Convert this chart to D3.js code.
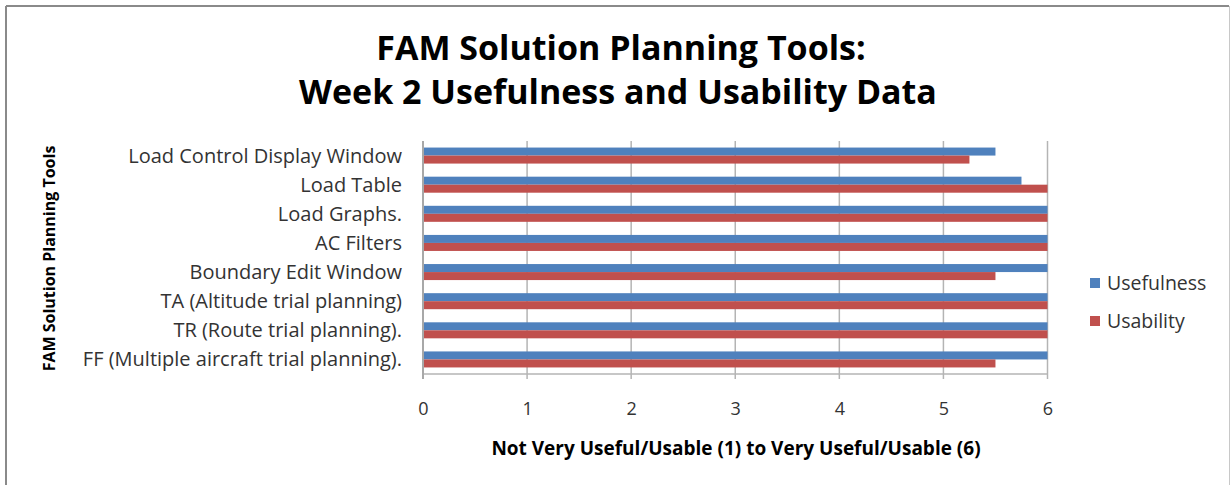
<!DOCTYPE html>
<html>
<head>
<meta charset="utf-8">
<script src="https://cdn.jsdelivr.net/npm/d3@7"></script>
<style>
  html, body { margin: 0; padding: 0; background: #fff; }
  svg { display: block; }
  text { font-family: "Open Sans", Lato, "DejaVu Sans", sans-serif; }
</style>
</head>
<body>
<svg id="chart" width="1230" height="485"></svg>
<script>
// Tools rated in week 2, top to bottom
const categories = [
  "Load Control Display Window",
  "Load Table",
  "Load Graphs.",
  "AC Filters",
  "Boundary Edit Window",
  "TA (Altitude trial planning)",
  "TR (Route trial planning).",
  "FF (Multiple aircraft trial planning)."
];
const seriesNames = ["Usefulness", "Usability"];
const usefulness = [5.5, 5.75, 6, 6, 6, 6, 6, 6];
const usability  = [5.25, 6, 6, 6, 5.5, 6, 6, 5.5];
const xTicks = [0, 1, 2, 3, 4, 5, 6];

const colors = { Usefulness: "#4F81BD", Usability: "#C0504D" };

const svg = d3.select("#chart");

// chart frame
svg.append("line").attr("x1", 6).attr("y1", 6).attr("x2", 1229).attr("y2", 6)
  .attr("stroke", "#8a8a8a").attr("stroke-width", 2);
svg.append("line").attr("x1", 6).attr("y1", 6).attr("x2", 6).attr("y2", 485)
  .attr("stroke", "#8a8a8a").attr("stroke-width", 2);
svg.append("line").attr("x1", 1229.5).attr("y1", 6).attr("x2", 1229.5).attr("y2", 485)
  .attr("stroke", "#c8c8c8").attr("stroke-width", 1);

const plot = { left: 423, right: 1047.5, top: 141, bottom: 374 };

const x = d3.scaleLinear().domain([0, 6]).range([plot.left, plot.right]);
const y = d3.scaleBand().domain(categories)
  .range([plot.top, plot.bottom]).paddingInner(0.45).paddingOuter(0.225);
const ySub = d3.scaleBand().domain(seriesNames).range([0, y.bandwidth()]);

const rows = categories.map((c, i) => ({ cat: c, Usefulness: usefulness[i], Usability: usability[i] }));

// vertical gridlines with ticks below the axis
svg.append("g").selectAll("line").data(xTicks.filter(t => t > 0)).join("line")
  .attr("x1", d => x(d)).attr("x2", d => x(d))
  .attr("y1", plot.top).attr("y2", plot.bottom + 5)
  .attr("stroke", "#b4b4b4").attr("stroke-width", 1.5);

// bars
const groups = svg.append("g").selectAll("g").data(rows).join("g")
  .attr("transform", d => `translate(0,${y(d.cat)})`);
groups.selectAll("rect").data(d => seriesNames.map(s => ({ s, v: d[s] }))).join("rect")
  .attr("x", x(0))
  .attr("y", d => ySub(d.s))
  .attr("width", d => x(d.v) - x(0))
  .attr("height", ySub.bandwidth())
  .attr("fill", d => colors[d.s]);

// x axis line with ticks
svg.append("line").attr("x1", plot.left).attr("x2", plot.right)
  .attr("y1", plot.bottom).attr("y2", plot.bottom)
  .attr("stroke", "#b4b4b4").attr("stroke-width", 1.5);
svg.append("line").attr("x1", plot.left).attr("x2", plot.left)
  .attr("y1", plot.bottom).attr("y2", plot.bottom + 5)
  .attr("stroke", "#a8a8a8").attr("stroke-width", 2);

// category axis line
svg.append("line").attr("x1", plot.left).attr("x2", plot.left)
  .attr("y1", plot.top).attr("y2", plot.bottom)
  .attr("stroke", "#a8a8a8").attr("stroke-width", 2);

// x tick labels
const xAxis = d3.axisBottom(x).tickValues(xTicks).tickSize(0).tickPadding(0).tickFormat(d3.format("d"));
const xg = svg.append("g").attr("transform", `translate(0,${plot.bottom + 41})`).call(xAxis);
xg.select(".domain").remove();
xg.selectAll("text").attr("font-size", 18).attr("fill", "#333").attr("font-family", null)
  .attr("dy", null);

// y category labels
const yAxis = d3.axisLeft(y).tickSize(0).tickPadding(0);
const yg = svg.append("g").attr("transform", `translate(${plot.left - 21},0)`).call(yAxis);
yg.select(".domain").remove();
yg.selectAll("text").attr("font-size", 20).attr("fill", "#333").attr("font-family", null)
  .attr("dy", "0.35em");

// titles
svg.append("text").attr("x", 621).attr("y", 60).attr("text-anchor", "middle")
  .attr("font-size", 34).attr("font-weight", "bold").attr("fill", "#000")
  .text("FAM Solution Planning Tools:");
svg.append("text").attr("x", 618).attr("y", 104).attr("text-anchor", "middle")
  .attr("font-size", 34).attr("font-weight", "bold").attr("fill", "#000")
  .text("Week 2 Usefulness and Usability Data");

svg.append("text").attr("x", 736).attr("y", 455).attr("text-anchor", "middle")
  .attr("font-size", 19).attr("font-weight", "bold").attr("fill", "#000")
  .text("Not Very Useful/Usable (1) to Very Useful/Usable (6)");

svg.append("text")
  .attr("transform", `translate(55,${(plot.top + plot.bottom) / 2 + 1}) rotate(-90)`)
  .attr("text-anchor", "middle")
  .attr("font-size", 16).attr("font-weight", "bold").attr("fill", "#000")
  .text("FAM Solution Planning Tools");

// legend
const legend = svg.append("g").selectAll("g").data(seriesNames).join("g")
  .attr("transform", (d, i) => `translate(1090,${283 + i * 38})`);
legend.append("rect").attr("x", 0).attr("y", -5).attr("width", 10).attr("height", 10)
  .attr("fill", d => colors[d]);
legend.append("text").attr("x", 17).attr("y", 0).attr("dy", "0.35em")
  .attr("font-size", 19.5).attr("fill", "#333").text(d => d);
</script>
</body>
</html>
